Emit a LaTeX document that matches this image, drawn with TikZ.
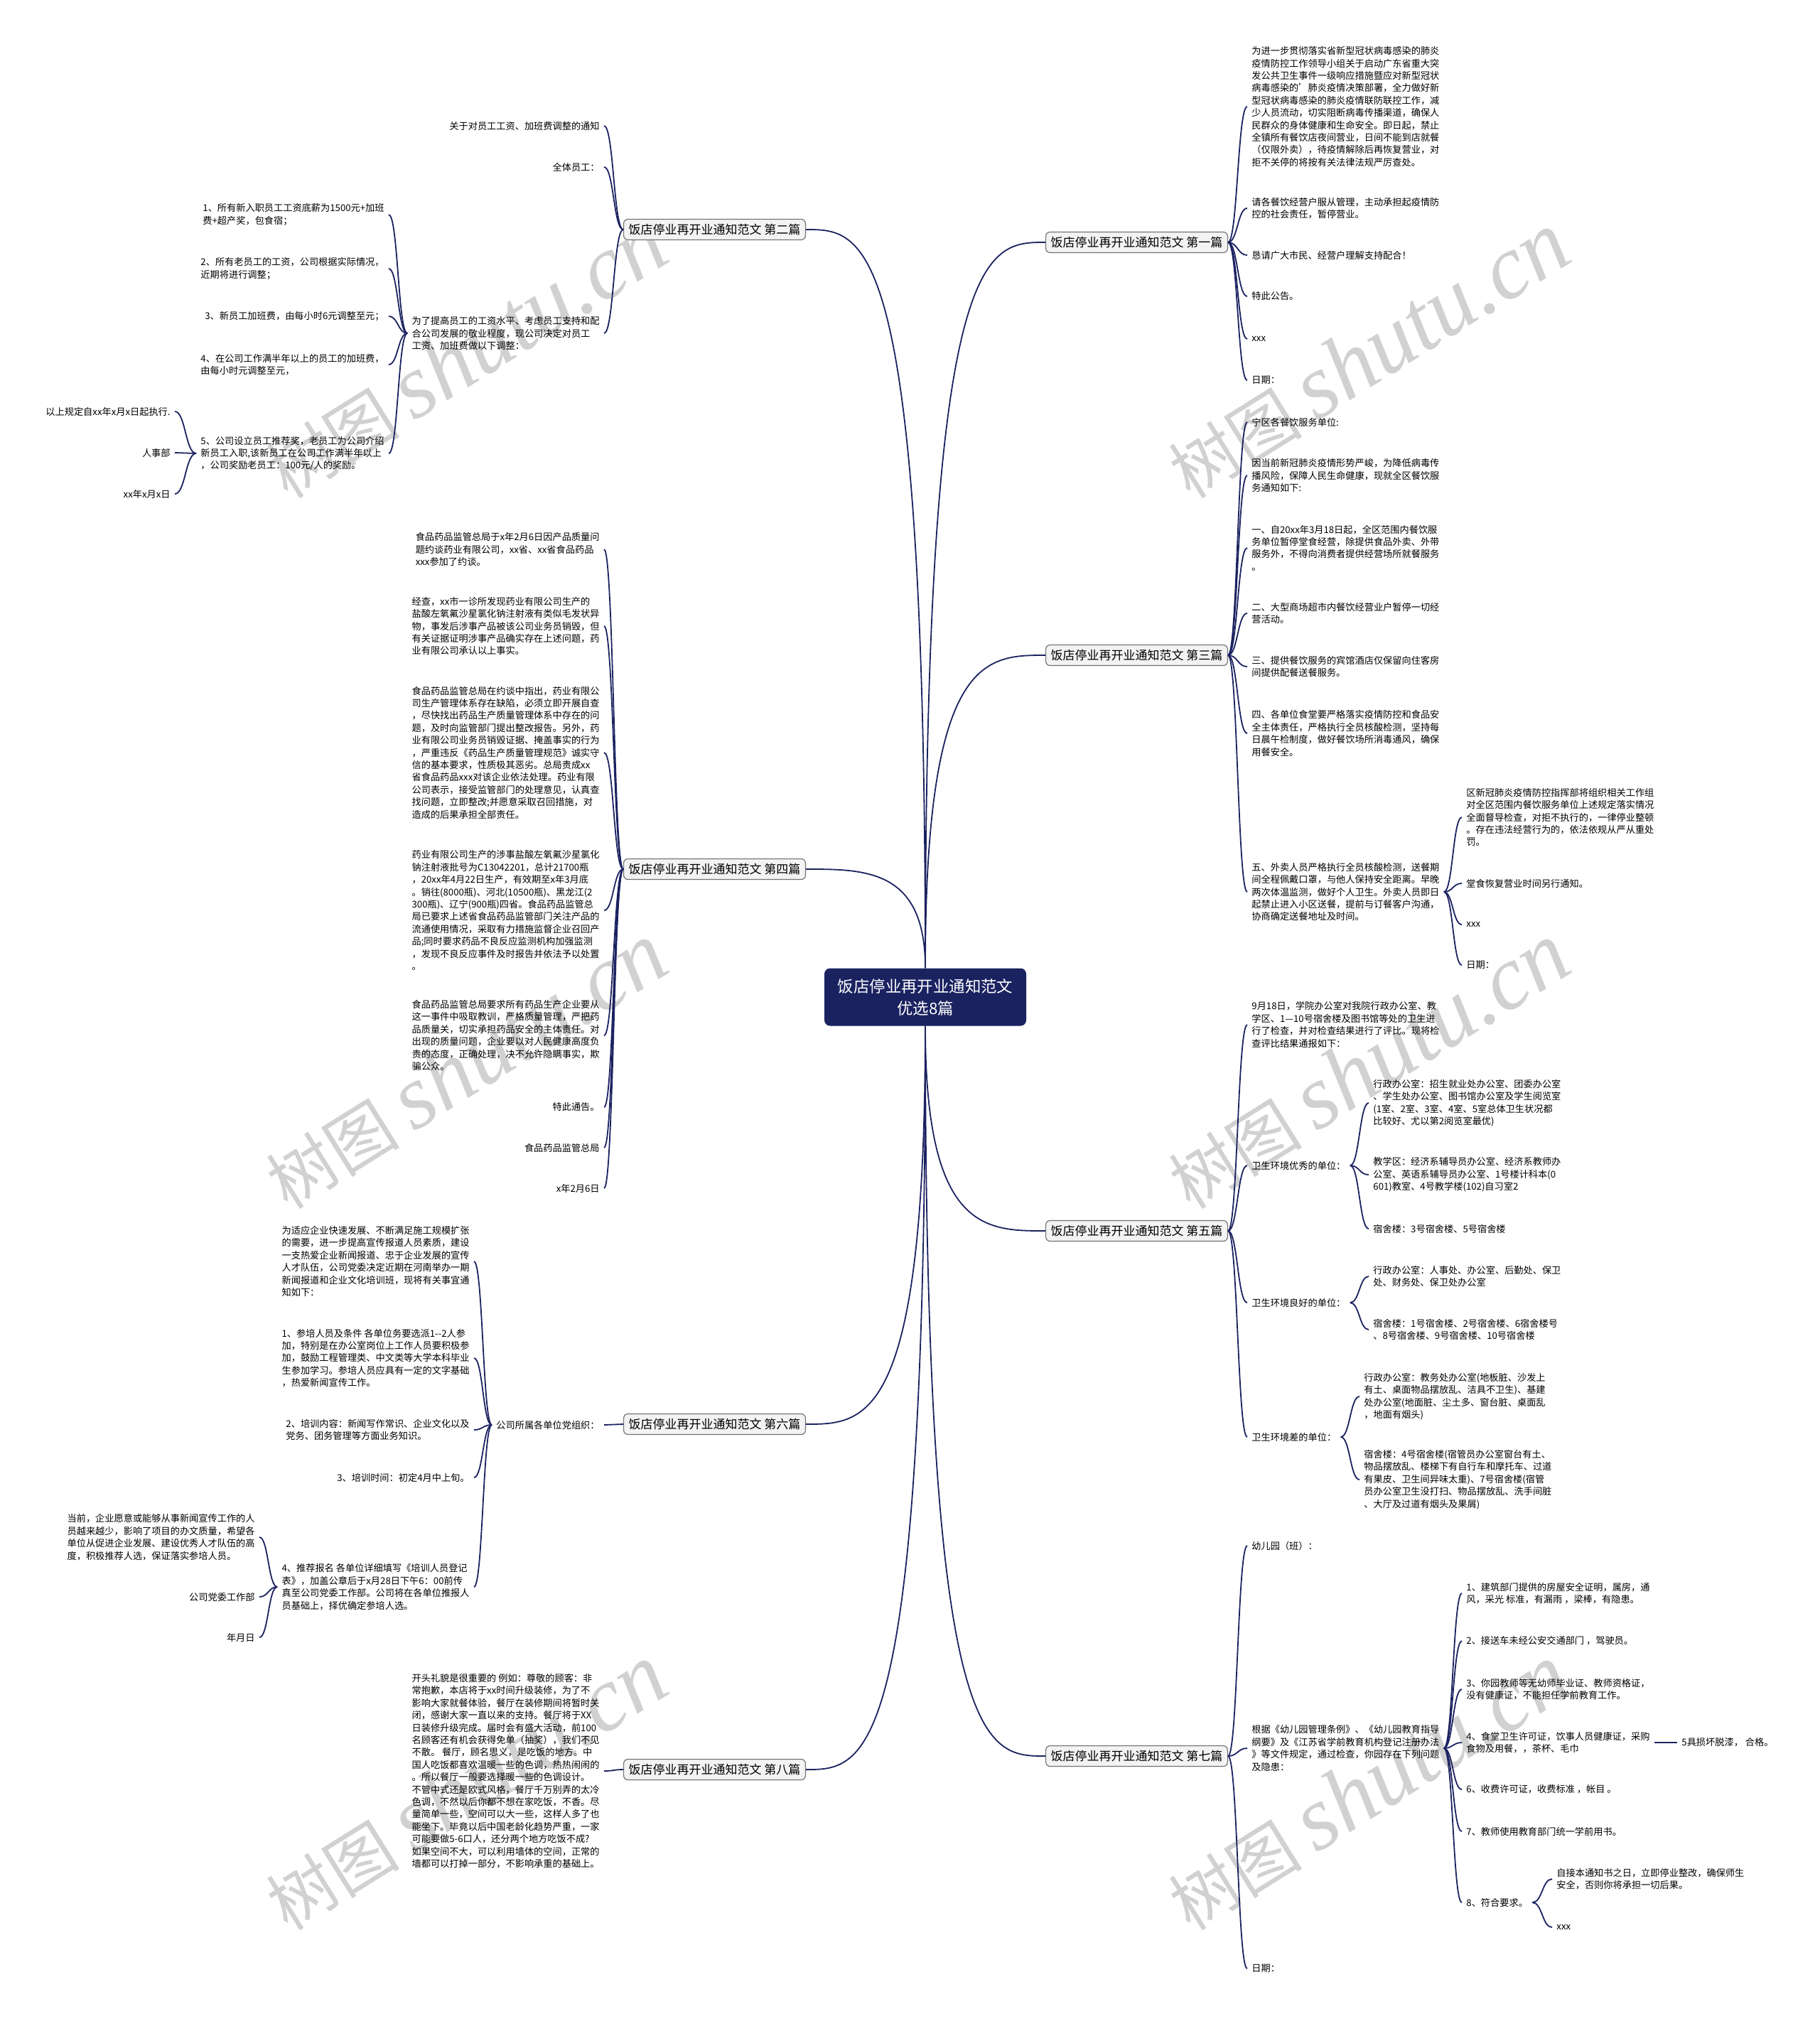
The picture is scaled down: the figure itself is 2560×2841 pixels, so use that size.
\documentclass[tikz,border=0pt]{standalone}
\usepackage{fontspec}
\setmainfont{Noto Sans CJK SC}
\newfontfamily\wmfont{Liberation Serif}
\usetikzlibrary{calc}

\definecolor{navy}{HTML}{1B2260}
\definecolor{boxgray}{HTML}{F3F3F3}

% vertical start, horizontal end (root -> branch)
\newcommand{\rootlink}[2]{\draw[conn] (#1) .. controls (#1 |- #2) and ($(#1 |- #2)!0.5!(#2)$) .. (#2);}
% brace-like curve (branch -> leaf)
\newcommand{\leaflink}[2]{\draw[conn] (#1) .. controls ($(#1)!0.5!(#1 -| #2)$) and ($(#1 |- #2)!0.5!(#2)$) .. (#2);}

\begin{document}
\begin{tikzpicture}[x=0.5pt, y=-0.5pt,
    conn/.style={draw=navy, line width=0.9pt},
    rootbox/.style={fill=navy, text=white, rounded corners=4pt, align=center,
        font=\fontsize{11.2}{15.5}\selectfont, minimum width=142pt, minimum height=40.5pt},
    branchbox/.style={draw=black!55, fill=boxgray, rounded corners=3pt, line width=0.6pt,
        font=\fontsize{8.5}{10}\selectfont, inner xsep=3.5pt, inner ysep=3pt, minimum height=14.5pt},
    leaftext/.style={font=\fontsize{6.6}{8.7}\selectfont, align=left, inner xsep=3pt, inner ysep=1pt},
    wmark/.style={text=black!18, rotate=32, font=\fontsize{47}{47}\selectfont}]

    % 0. Nền và khung
    \fill[white] (0,0) rectangle (2560,2841);
    \useasboundingbox (0,0) rectangle (2560,2841);

    % 1. Watermark
    \foreach \wx/\wy in {655/500, 1925/500, 655/1500, 1925/1500, 655/2515, 1925/2515} {
        \node[wmark] at (\wx,\wy) {树图 {\wmfont\itshape\fontsize{64}{64}\selectfont shutu.cn}};
    }

    % 2. Nút trung tâm và các nhánh
    \node[rootbox] (root) at (1302,1403) {饭店停业再开业通知范文\\优选8篇};

    \node[branchbox, anchor=west] (b1) at (1471,341) {饭店停业再开业通知范文 第一篇};
    \node[branchbox, anchor=west] (b3) at (1471,922) {饭店停业再开业通知范文 第三篇};
    \node[branchbox, anchor=west] (b5) at (1471,1732) {饭店停业再开业通知范文 第五篇};
    \node[branchbox, anchor=west] (b7) at (1471,2471) {饭店停业再开业通知范文 第七篇};
    \node[branchbox, anchor=east] (b2) at (1134,323) {饭店停业再开业通知范文 第二篇};
    \node[branchbox, anchor=east] (b4) at (1134,1223) {饭店停业再开业通知范文 第四篇};
    \node[branchbox, anchor=east] (b6) at (1134,2004) {饭店停业再开业通知范文 第六篇};
    \node[branchbox, anchor=east] (b8) at (1134,2490) {饭店停业再开业通知范文 第八篇};

    \foreach \b in {b1,b3} \rootlink{root.north}{\b.west};
    \foreach \b in {b2,b4} \rootlink{root.north}{\b.east};
    \foreach \b in {b5,b7} \rootlink{root.south}{\b.west};
    \foreach \b in {b6,b8} \rootlink{root.south}{\b.east};

    % 3. Nhánh phải: 第一篇
    \node[leaftext, anchor=west] (b1a) at (1755,150) {为进一步贯彻落实省新型冠状病毒感染的肺炎\\疫情防控工作领导小组关于启动广东省重大突\\发公共卫生事件一级响应措施暨应对新型冠状\\病毒感染的'肺炎疫情决策部署，全力做好新\\型冠状病毒感染的肺炎疫情联防联控工作，减\\少人员流动，切实阻断病毒传播渠道，确保人\\民群众的身体健康和生命安全。即日起，禁止\\全镇所有餐饮店夜间营业，日间不能到店就餐\\（仅限外卖），待疫情解除后再恢复营业，对\\拒不关停的将按有关法律法规严厉查处。};
    \node[leaftext, anchor=west] (b1b) at (1755,293) {请各餐饮经营户服从管理，主动承担起疫情防\\控的社会责任，暂停营业。};
    \node[leaftext, anchor=west] (b1c) at (1755,359) {恳请广大市民、经营户理解支持配合！};
    \node[leaftext, anchor=west] (b1d) at (1755,417) {特此公告。};
    \node[leaftext, anchor=west] (b1e) at (1755,477) {xxx};
    \node[leaftext, anchor=west] (b1f) at (1755,535) {日期：};
    \foreach \c in {b1a,b1b,b1c,b1d,b1e,b1f} \leaflink{b1.east}{\c.west};

    % 4. Nhánh phải: 第三篇
    \node[leaftext, anchor=west] (b3a) at (1755,594) {宁区各餐饮服务单位:};
    \node[leaftext, anchor=west] (b3b) at (1755,669) {因当前新冠肺炎疫情形势严峻，为降低病毒传\\播风险，保障人民生命健康，现就全区餐饮服\\务通知如下:};
    \node[leaftext, anchor=west] (b3c) at (1755,771) {一、自20xx年3月18日起，全区范围内餐饮服\\务单位暂停堂食经营，除提供食品外卖、外带\\服务外，不得向消费者提供经营场所就餐服务\\。};
    \node[leaftext, anchor=west] (b3d) at (1755,863) {二、大型商场超市内餐饮经营业户暂停一切经\\营活动。};
    \node[leaftext, anchor=west] (b3e) at (1755,938) {三、提供餐饮服务的宾馆酒店仅保留向住客房\\间提供配餐送餐服务。};
    \node[leaftext, anchor=west] (b3f) at (1755,1032) {四、各单位食堂要严格落实疫情防控和食品安\\全主体责任，严格执行全员核酸检测，坚持每\\日晨午检制度，做好餐饮场所消毒通风，确保\\用餐安全。};
    \node[leaftext, anchor=west] (b3g) at (1755,1255) {五、外卖人员严格执行全员核酸检测，送餐期\\间全程佩戴口罩，与他人保持安全距离。早晚\\两次体温监测，做好个人卫生。外卖人员即日\\起禁止进入小区送餐，提前与订餐客户沟通，\\协商确定送餐地址及时间。};
    \foreach \c in {b3a,b3b,b3c,b3d,b3e,b3f,b3g} \leaflink{b3.east}{\c.west};

    \node[leaftext, anchor=west] (b3g1) at (2057,1150) {区新冠肺炎疫情防控指挥部将组织相关工作组\\对全区范围内餐饮服务单位上述规定落实情况\\全面督导检查，对拒不执行的，一律停业整顿\\。存在违法经营行为的，依法依规从严从重处\\罚。};
    \node[leaftext, anchor=west] (b3g2) at (2057,1243) {堂食恢复营业时间另行通知。};
    \node[leaftext, anchor=west] (b3g3) at (2057,1301) {xxx};
    \node[leaftext, anchor=west] (b3g4) at (2057,1358) {日期：};
    \foreach \c in {b3g1,b3g2,b3g3,b3g4} \leaflink{b3g.east}{\c.west};

    % 5. Nhánh phải: 第五篇
    \node[leaftext, anchor=west] (b5a) at (1755,1442) {9月18日，学院办公室对我院行政办公室、教\\学区、1—10号宿舍楼及图书馆等处的卫生进\\行了检查，并对检查结果进行了评比。现将检\\查评比结果通报如下：};
    \node[leaftext, anchor=west] (b5b) at (1755,1640) {卫生环境优秀的单位：};
    \node[leaftext, anchor=west] (b5c) at (1755,1833) {卫生环境良好的单位：};
    \node[leaftext, anchor=west] (b5d) at (1755,2022) {卫生环境差的单位：};
    \foreach \c in {b5a,b5b,b5c,b5d} \leaflink{b5.east}{\c.west};

    \node[leaftext, anchor=west] (b5b1) at (1926,1552) {行政办公室：招生就业处办公室、团委办公室\\、学生处办公室、图书馆办公室及学生阅览室\\(1室、2室、3室、4室、5室总体卫生状况都\\比较好、尤以第2阅览室最优)};
    \node[leaftext, anchor=west] (b5b2) at (1926,1653) {教学区：经济系辅导员办公室、经济系教师办\\公室、英语系辅导员办公室、1号楼计科本(0\\601)教室、4号教学楼(102)自习室2};
    \node[leaftext, anchor=west] (b5b3) at (1926,1729) {宿舍楼：3号宿舍楼、5号宿舍楼};
    \foreach \c in {b5b1,b5b2,b5b3} \leaflink{b5b.east}{\c.west};

    \node[leaftext, anchor=west] (b5c1) at (1926,1796) {行政办公室：人事处、办公室、后勤处、保卫\\处、财务处、保卫处办公室};
    \node[leaftext, anchor=west] (b5c2) at (1926,1871) {宿舍楼：1号宿舍楼、2号宿舍楼、6宿舍楼号\\、8号宿舍楼、9号宿舍楼、10号宿舍楼};
    \foreach \c in {b5c1,b5c2} \leaflink{b5c.east}{\c.west};

    \node[leaftext, anchor=west] (b5d1) at (1913,1965) {行政办公室：教务处办公室(地板脏、沙发上\\有土、桌面物品摆放乱、洁具不卫生)、基建\\处办公室(地面脏、尘土多、窗台脏、桌面乱\\，地面有烟头)};
    \node[leaftext, anchor=west] (b5d2) at (1913,2082) {宿舍楼：4号宿舍楼(宿管员办公室窗台有土、\\物品摆放乱、楼梯下有自行车和摩托车、过道\\有果皮、卫生间异味太重)、7号宿舍楼(宿管\\员办公室卫生没打扫、物品摆放乱、洗手间脏\\、大厅及过道有烟头及果屑)};
    \foreach \c in {b5d1,b5d2} \leaflink{b5d.east}{\c.west};

    % 6. Nhánh phải: 第七篇
    \node[leaftext, anchor=west] (b7a) at (1755,2175) {幼儿园（班）：};
    \node[leaftext, anchor=west] (b7b) at (1755,2460) {根据《幼儿园管理条例》、《幼儿园教育指导\\纲要》及《江苏省学前教育机构登记注册办法\\》等文件规定，通过检查，你园存在下列问题\\及隐患：};
    \node[leaftext, anchor=west] (b7c) at (1755,2770) {日期：};
    \foreach \c in {b7a,b7b,b7c} \leaflink{b7.east}{\c.west};

    \node[leaftext, anchor=west] (b7b1) at (2057,2242) {1、建筑部门提供的房屋安全证明，属房，通\\风，采光 标准，有漏雨 ，梁棒，有隐患。};
    \node[leaftext, anchor=west] (b7b2) at (2057,2309) {2、接送车未经公安交通部门 ，驾驶员。};
    \node[leaftext, anchor=west] (b7b3) at (2057,2377) {3、你园教师等无幼师毕业证、教师资格证，\\没有健康证，不能担任学前教育工作。};
    \node[leaftext, anchor=west] (b7b4) at (2057,2452) {4、食堂卫生许可证，饮事人员健康证，采购\\食物及用餐，，茶杯、毛巾};
    \node[leaftext, anchor=west] (b7b6) at (2057,2518) {6、收费许可证，收费标准 ，帐目 。};
    \node[leaftext, anchor=west] (b7b7) at (2057,2577) {7、教师使用教育部门统一学前用书。};
    \node[leaftext, anchor=west] (b7b8) at (2057,2677) {8、符合要求。};
    \foreach \c in {b7b1,b7b2,b7b3,b7b4,b7b6,b7b7,b7b8} \leaflink{b7b.east}{\c.west};

    \node[leaftext, anchor=west] (b7b4a) at (2360,2452) {5具损坏脱漆， 合格。};
    \leaflink{b7b4.east}{b7b4a.west};
    \node[leaftext, anchor=west] (b7b8a) at (2184,2644) {自接本通知书之日，立即停业整改，确保师生\\安全，否则你将承担一切后果。};
    \node[leaftext, anchor=west] (b7b8b) at (2184,2712) {xxx};
    \foreach \c in {b7b8a,b7b8b} \leaflink{b7b8.east}{\c.west};

    % 7. Nhánh trái: 第二篇
    \node[leaftext, anchor=east] (b2a) at (850,177) {关于对员工工资、加班费调整的通知};
    \node[leaftext, anchor=east] (b2b) at (850,235) {全体员工：};
    \node[leaftext, anchor=east] (b2c) at (850,469) {为了提高员工的工资水平、考虑员工支持和配\\合公司发展的敬业程度，现公司决定对员工\\工资、加班费做以下调整：};
    \foreach \c in {b2a,b2b,b2c} \leaflink{b2.west}{\c.east};

    \node[leaftext, anchor=east] (b2c1) at (547,302) {1、所有新入职员工工资底薪为1500元+加班\\费+超产奖，包食宿；};
    \node[leaftext, anchor=east] (b2c2) at (547,378) {2、所有老员工的工资，公司根据实际情况，\\近期将进行调整；};
    \node[leaftext, anchor=east] (b2c3) at (547,445) {3、新员工加班费，由每小时6元调整至元；};
    \node[leaftext, anchor=east] (b2c4) at (547,513) {4、在公司工作满半年以上的员工的加班费，\\由每小时元调整至元，};
    \node[leaftext, anchor=east] (b2c5) at (547,638) {5、公司设立员工推荐奖，老员工为公司介绍\\新员工入职,该新员工在公司工作满半年以上\\，公司奖励老员工：100元/人的奖励。};
    \foreach \c in {b2c1,b2c2,b2c3,b2c4,b2c5} \leaflink{b2c.west}{\c.east};

    \node[leaftext, anchor=east] (b2c5a) at (246,579) {以上规定自xx年x月x日起执行.};
    \node[leaftext, anchor=east] (b2c5b) at (246,637) {人事部};
    \node[leaftext, anchor=east] (b2c5c) at (246,695) {xx年x月x日};
    \foreach \c in {b2c5a,b2c5b,b2c5c} \leaflink{b2c5.west}{\c.east};

    % 8. Nhánh trái: 第四篇
    \node[leaftext, anchor=east] (b4a) at (850,773) {食品药品监管总局于x年2月6日因产品质量问\\题约谈药业有限公司，xx省、xx省食品药品\\xxx参加了约谈。};
    \node[leaftext, anchor=east] (b4b) at (850,881) {经查，xx市一诊所发现药业有限公司生产的\\盐酸左氧氟沙星氯化钠注射液有类似毛发状异\\物，事发后涉事产品被该公司业务员销毁，但\\有关证据证明涉事产品确实存在上述问题，药\\业有限公司承认以上事实。};
    \node[leaftext, anchor=east] (b4c) at (850,1059) {食品药品监管总局在约谈中指出，药业有限公\\司生产管理体系存在缺陷，必须立即开展自查\\，尽快找出药品生产质量管理体系中存在的问\\题，及时向监管部门提出整改报告。另外，药\\业有限公司业务员销毁证据、掩盖事实的行为\\，严重违反《药品生产质量管理规范》诚实守\\信的基本要求，性质极其恶劣。总局责成xx\\省食品药品xxx对该企业依法处理。药业有限\\公司表示，接受监管部门的处理意见，认真查\\找问题，立即整改;并愿意采取召回措施，对\\造成的后果承担全部责任。};
    \node[leaftext, anchor=east] (b4d) at (850,1281) {药业有限公司生产的涉事盐酸左氧氟沙星氯化\\钠注射液批号为C13042201，总计21700瓶\\，20xx年4月22日生产，有效期至x年3月底\\。销往(8000瓶)、河北(10500瓶)、黑龙江(2\\300瓶)、辽宁(900瓶)四省。食品药品监管总\\局已要求上述省食品药品监管部门关注产品的\\流通使用情况，采取有力措施监督企业召回产\\品;同时要求药品不良反应监测机构加强监测\\，发现不良反应事件及时报告并依法予以处置\\。};
    \node[leaftext, anchor=east] (b4e) at (850,1457) {食品药品监管总局要求所有药品生产企业要从\\这一事件中吸取教训，严格质量管理，严把药\\品质量关，切实承担药品安全的主体责任。对\\出现的质量问题，企业要以对人民健康高度负\\责的态度，正确处理，决不允许隐瞒事实，欺\\骗公众。};
    \node[leaftext, anchor=east] (b4f) at (850,1558) {特此通告。};
    \node[leaftext, anchor=east] (b4g) at (850,1615) {食品药品监管总局};
    \node[leaftext, anchor=east] (b4h) at (850,1672) {x年2月6日};
    \foreach \c in {b4a,b4b,b4c,b4d,b4e,b4f,b4g,b4h} \leaflink{b4.west}{\c.east};

    % 9. Nhánh trái: 第六篇
    \node[leaftext, anchor=east] (b6a) at (850,2005) {公司所属各单位党组织：};
    \leaflink{b6.west}{b6a.east};

    \node[leaftext, anchor=east] (b6a1) at (667,1775) {为适应企业快速发展、不断满足施工规模扩张\\的需要，进一步提高宣传报道人员素质，建设\\一支热爱企业新闻报道、忠于企业发展的宣传\\人才队伍，公司党委决定近期在河南举办一期\\新闻报道和企业文化培训班，现将有关事宜通\\知如下：};
    \node[leaftext, anchor=east] (b6a2) at (667,1911) {1、参培人员及条件 各单位务要选派1-{}-2人参\\加，特别是在办公室岗位上工作人员要积极参\\加，鼓励工程管理类、中文类等大学本科毕业\\生参加学习。参培人员应具有一定的文字基础\\，热爱新闻宣传工作。};
    \node[leaftext, anchor=east] (b6a3) at (667,2012) {2、培训内容：新闻写作常识、企业文化以及\\党务、团务管理等方面业务知识。};
    \node[leaftext, anchor=east] (b6a4) at (667,2079) {3、培训时间：初定4月中上旬。};
    \node[leaftext, anchor=east] (b6a5) at (667,2233) {4、推荐报名 各单位详细填写《培训人员登记\\表》，加盖公章后于x月28日下午6：00前传\\真至公司党委工作部。公司将在各单位推报人\\员基础上，择优确定参培人选。};
    \foreach \c in {b6a1,b6a2,b6a3,b6a4,b6a5} \leaflink{b6a.west}{\c.east};

    \node[leaftext, anchor=east] (b6a5a) at (365,2163) {当前，企业愿意或能够从事新闻宣传工作的人\\员越来越少，影响了项目的办文质量，希望各\\单位从促进企业发展、建设优秀人才队伍的高\\度，积极推荐人选，保证落实参培人员。};
    \node[leaftext, anchor=east] (b6a5b) at (365,2247) {公司党委工作部};
    \node[leaftext, anchor=east] (b6a5c) at (365,2304) {年月日};
    \foreach \c in {b6a5a,b6a5b,b6a5c} \leaflink{b6a5.west}{\c.east};

    % 10. Nhánh trái: 第八篇
    \node[leaftext, anchor=east] (b8a) at (850,2492) {开头礼貌是很重要的 例如：尊敬的顾客：非\\常抱歉，本店将于xx时间升级装修，为了不\\影响大家就餐体验，餐厅在装修期间将暂时关\\闭，感谢大家一直以来的支持。餐厅将于XX\\日装修升级完成。届时会有盛大活动，前100\\名顾客还有机会获得免单（抽奖），我们不见\\不散。 餐厅，顾名思义，是吃饭的地方。中\\国人吃饭都喜欢温暖一些的色调，热热闹闹的\\。所以餐厅一般要选择暖一些的色调设计。\\不管中式还是欧式风格，餐厅千万别弄的太冷\\色调，不然以后你都不想在家吃饭，不香。尽\\量简单一些，空间可以大一些，这样人多了也\\能坐下。毕竟以后中国老龄化趋势严重，一家\\可能要做5-6口人，还分两个地方吃饭不成?\\如果空间不大，可以利用墙体的空间，正常的\\墙都可以打掉一部分，不影响承重的基础上。};
    \leaflink{b8.west}{b8a.east};
\end{tikzpicture}
\end{document}
